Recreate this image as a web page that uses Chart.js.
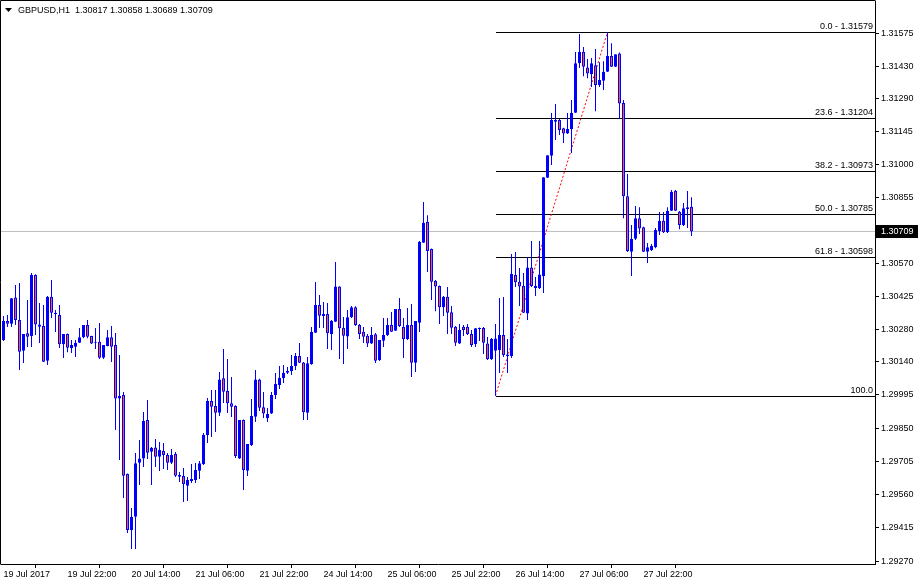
<!DOCTYPE html>
<html>
<head>
<meta charset="utf-8">
<script src="https://cdn.jsdelivr.net/npm/chart.js@4.4.1/dist/chart.umd.min.js"></script>
<style>
  html, body { margin: 0; padding: 0; background: #fff; }
  #wrap { width: 918px; height: 585px; position: relative; }
</style>
</head>
<body>
<div id="wrap"><canvas id="chart"></canvas></div>
<script>
// GBPUSD H1 bars, 19 Jul 06:00 .. 28 Jul 09:00
const symbolTitle = "GBPUSD,H1  1.30817 1.30858 1.30689 1.30709";

const opens = [
  1.30235,1.30318,1.30306,1.30421,1.30322,1.30188,1.30264,1.30252,1.30519,1.30303,
  1.30296,1.30144,1.30424,1.30354,1.30344,1.30216,1.30261,1.30199,1.30206,1.30223,
  1.30247,1.30300,1.30252,1.30227,1.30227,1.30157,1.30209,1.30247,1.30213,1.29980,
  1.29995,1.29650,1.29405,1.29463,1.29699,1.29718,1.29886,1.29747,1.29766,1.29725,
  1.29750,1.29733,1.29699,1.29737,1.29638,1.29641,1.29599,1.29619,1.29624,1.29664,
  1.29694,1.29820,1.29969,1.29947,1.29917,1.30068,1.30012,1.29959,1.29947,1.29718,
  1.29886,1.29664,1.29777,1.29900,1.30063,1.29941,1.29893,1.29914,1.29995,1.30038,
  1.30068,1.30092,1.30100,1.30121,1.30165,1.30137,1.29917,1.30129,1.30267,1.30388,
  1.30348,1.30348,1.30261,1.30315,1.30468,1.30288,1.30250,1.30334,1.30378,1.30300,
  1.30271,1.30253,1.30220,1.30260,1.30148,1.30232,1.30257,1.30300,1.30275,1.30370,
  1.30293,1.30239,1.30300,1.30136,1.30310,1.30659,1.30751,1.30632,1.30494,1.30471,
  1.30378,1.30424,1.30356,1.30293,1.30220,1.30293,1.30293,1.30261,1.30217,1.30287,
  1.30287,1.30220,1.30151,1.30188,1.30191,1.30257,1.30165,1.30165,1.30519,1.30489,
  1.30471,1.30351,1.30552,1.30462,1.30461,1.30514,1.30943,1.31039,1.31195,1.31195,
  1.31159,1.31137,1.31155,1.31227,1.31443,1.31493,1.31425,1.31395,1.31435,1.31348,
  1.31367,1.31406,1.31475,1.31428,1.31486,1.31270,1.30863,1.30620,1.30677,1.30766,
  1.30727,1.30620,1.30628,1.30640,1.30711,1.30756,1.30705,1.30799,1.30887,1.30795,
  1.30737,1.30807,1.30817
];
const highs = [
  1.30340,1.30344,1.30418,1.30475,1.30484,1.30261,1.30410,1.30527,1.30522,1.30396,
  1.30388,1.30427,1.30497,1.30366,1.30388,1.30261,1.30263,1.30235,1.30235,1.30287,
  1.30300,1.30322,1.30253,1.30287,1.30309,1.30213,1.30279,1.30296,1.30265,1.30169,
  1.30008,1.29652,1.29501,1.29742,1.29798,1.29921,1.29973,1.29768,1.29803,1.29790,
  1.29785,1.29742,1.29759,1.29746,1.29659,1.29676,1.29637,1.29694,1.29698,1.29707,
  1.29829,1.29982,1.30017,1.30017,1.30095,1.30196,1.30152,1.30073,1.29950,1.29886,
  1.29888,1.29781,1.29977,1.30104,1.30066,1.30008,1.29938,1.30008,1.30091,1.30121,
  1.30126,1.30117,1.30169,1.30178,1.30222,1.30139,1.30161,1.30292,1.30488,1.30431,
  1.30401,1.30397,1.30322,1.30575,1.30470,1.30335,1.30366,1.30383,1.30382,1.30305,
  1.30292,1.30261,1.30292,1.30265,1.30235,1.30331,1.30331,1.30357,1.30370,1.30418,
  1.30331,1.30375,1.30392,1.30318,1.30667,1.30837,1.30780,1.30634,1.30497,1.30473,
  1.30427,1.30466,1.30383,1.30296,1.30305,1.30300,1.30305,1.30279,1.30287,1.30289,
  1.30292,1.30248,1.30244,1.30305,1.30418,1.30423,1.30239,1.30610,1.30619,1.30549,
  1.30527,1.30597,1.30667,1.30510,1.30667,1.30946,1.31042,1.31226,1.31265,1.31200,
  1.31162,1.31226,1.31283,1.31492,1.31571,1.31514,1.31462,1.31466,1.31505,1.31448,
  1.31452,1.31579,1.31531,1.31483,1.31490,1.31283,1.30960,1.30737,1.30820,1.30815,
  1.30729,1.30658,1.30654,1.30724,1.30794,1.30794,1.30815,1.30890,1.30890,1.30798,
  1.30833,1.30885,1.30858
];
const lows = [
  1.30231,1.30292,1.30292,1.30300,1.30104,1.30134,1.30204,1.30204,1.30257,1.30222,
  1.30139,1.30126,1.30331,1.30270,1.30200,1.30156,1.30182,1.30178,1.30161,1.30222,
  1.30243,1.30243,1.30217,1.30196,1.30152,1.30152,1.30208,1.30139,1.29842,1.29711,
  1.29545,1.29392,1.29322,1.29322,1.29602,1.29680,1.29715,1.29602,1.29680,1.29663,
  1.29672,1.29667,1.29694,1.29637,1.29615,1.29528,1.29532,1.29611,1.29611,1.29628,
  1.29689,1.29785,1.29811,1.29833,1.29903,1.29960,1.29916,1.29899,1.29720,1.29715,
  1.29580,1.29641,1.29772,1.29877,1.29925,1.29894,1.29877,1.29912,1.29977,1.30021,
  1.30047,1.30086,1.30082,1.30104,1.30134,1.29886,1.29886,1.30127,1.30265,1.30287,
  1.30287,1.30196,1.30191,1.30314,1.30152,1.30130,1.30196,1.30331,1.30296,1.30239,
  1.30222,1.30204,1.30217,1.30134,1.30143,1.30204,1.30252,1.30270,1.30274,1.30292,
  1.30156,1.30235,1.30073,1.30095,1.30270,1.30658,1.30532,1.30410,1.30361,1.30305,
  1.30340,1.30261,1.30261,1.30209,1.30217,1.30252,1.30257,1.30204,1.30204,1.30231,
  1.30174,1.30148,1.30148,1.29992,1.30091,1.30161,1.30091,1.30156,1.30466,1.30383,
  1.30353,1.30322,1.30466,1.30427,1.30458,1.30440,1.30942,1.30999,1.31108,1.31130,
  1.31095,1.31134,1.31051,1.31226,1.31422,1.31387,1.31378,1.31339,1.31234,1.31339,
  1.31326,1.31405,1.31427,1.31427,1.31200,1.30767,1.30619,1.30514,1.30672,1.30698,
  1.30619,1.30571,1.30623,1.30636,1.30693,1.30702,1.30702,1.30798,1.30798,1.30719,
  1.30733,1.30724,1.30689
];
const closes = [
  1.30318,1.30306,1.30417,1.30322,1.30184,1.30261,1.30249,1.30519,1.30303,1.30293,
  1.30140,1.30424,1.30354,1.30347,1.30216,1.30261,1.30201,1.30213,1.30223,1.30247,
  1.30300,1.30249,1.30220,1.30223,1.30157,1.30213,1.30247,1.30206,1.29980,1.29990,
  1.29642,1.29405,1.29463,1.29697,1.29718,1.29881,1.29743,1.29765,1.29725,1.29755,
  1.29733,1.29699,1.29733,1.29642,1.29646,1.29605,1.29624,1.29628,1.29667,1.29697,
  1.29820,1.29969,1.29944,1.29917,1.30063,1.30009,1.29959,1.29944,1.29728,1.29886,
  1.29667,1.29781,1.29903,1.30063,1.29939,1.29914,1.29912,1.29995,1.30043,1.30070,
  1.30092,1.30100,1.30121,1.30165,1.30136,1.29919,1.30133,1.30271,1.30388,1.30341,
  1.30340,1.30264,1.30319,1.30468,1.30286,1.30254,1.30334,1.30378,1.30300,1.30261,
  1.30249,1.30220,1.30257,1.30144,1.30235,1.30257,1.30300,1.30271,1.30370,1.30296,
  1.30239,1.30300,1.30136,1.30318,1.30664,1.30747,1.30623,1.30489,1.30468,1.30378,
  1.30424,1.30354,1.30288,1.30223,1.30279,1.30279,1.30261,1.30213,1.30286,1.30283,
  1.30223,1.30151,1.30239,1.30242,1.30257,1.30169,1.30172,1.30523,1.30487,1.30468,
  1.30354,1.30552,1.30471,1.30471,1.30521,1.30946,1.31042,1.31195,1.31188,1.31152,
  1.31137,1.31156,1.31227,1.31443,1.31493,1.31428,1.31399,1.31443,1.31348,1.31370,
  1.31406,1.31475,1.31428,1.31482,1.31268,1.30863,1.30624,1.30677,1.30766,1.30722,
  1.30620,1.30640,1.30645,1.30715,1.30756,1.30705,1.30799,1.30882,1.30799,1.30737,
  1.30810,1.30814,1.30709
];

// time axis: one label every 16 bars
const xTickBars = [0, 16, 32, 48, 64, 80, 96, 112, 128, 144, 160];
const xTickLabels = ["19 Jul 2017", "19 Jul 22:00", "20 Jul 14:00", "21 Jul 06:00", "21 Jul 22:00",
  "24 Jul 14:00", "25 Jul 06:00", "25 Jul 22:00", "26 Jul 14:00", "27 Jul 06:00", "27 Jul 22:00"];

// price axis
const yTicks = [1.31575, 1.31430, 1.31290, 1.31145, 1.31000, 1.30855, 1.30570, 1.30425,
  1.30280, 1.30140, 1.29995, 1.29850, 1.29705, 1.29560, 1.29415, 1.29270];

// fibonacci retracement (from the 26 Jul low to the 27 Jul high)
const fibLabels = ["0.0 - 1.31579", "23.6 - 1.31204", "38.2 - 1.30973", "50.0 - 1.30785", "61.8 - 1.30598", "100.0"];
const fibPrices = [1.31579, 1.31204, 1.30973, 1.30785, 1.30598, 1.29992];
const fibBars = [123, 151];          // low bar, high bar
const fibEnds = [1.29992, 1.31579];  // low price, high price
const lastPrice = 1.30709;

const BLUE = "#0000ff";
const BEAR = "#ff5a1e";
const FONT = "Liberation Sans";

const bodies = opens.map((o, i) => ({ x: i, y: [o, closes[i]] }));
const wicks = lows.map((l, i) => ({ x: i, y: [l, highs[i]] }));

const mt4Overlay = {
  id: "mt4Overlay",
  beforeDraw(chart) {
    const c = chart.ctx;
    c.save();
    c.fillStyle = "#fff";
    c.fillRect(0, 0, chart.width, chart.height);
    c.restore();
  },
  beforeDatasetsDraw(chart) {
    const { ctx: c, chartArea: a, scales: { x, y } } = chart;
    const py = v => Math.round(y.getPixelForValue(v)) + 0.5;
    c.save();
    c.lineWidth = 1;

    // bid line
    c.strokeStyle = "#c0c0c0";
    c.beginPath();
    c.moveTo(a.left, py(lastPrice));
    c.lineTo(a.right, py(lastPrice));
    c.stroke();

    // fibo levels
    const fx = Math.round(x.getPixelForValue(fibBars[0]));
    c.strokeStyle = "#000";
    c.fillStyle = "#000";
    c.font = "9px '" + FONT + "'";
    c.textAlign = "right";
    c.textBaseline = "bottom";
    fibPrices.forEach((p, i) => {
      c.beginPath();
      c.moveTo(fx, py(p));
      c.lineTo(a.right, py(p));
      c.stroke();
      c.fillText(fibLabels[i], a.right - 2, py(p) - 1);
    });

    // trend (dotted red)
    c.strokeStyle = "#ff0000";
    c.setLineDash([2, 2]);
    c.beginPath();
    c.moveTo(x.getPixelForValue(fibBars[0]), y.getPixelForValue(fibEnds[0]));
    c.lineTo(x.getPixelForValue(fibBars[1]), y.getPixelForValue(fibEnds[1]));
    c.stroke();
    c.restore();
  },
  afterDraw(chart) {
    const { ctx: c, chartArea: a, scales: { y } } = chart;
    c.save();
    c.strokeStyle = "#000";
    c.lineWidth = 1;
    c.beginPath();
    c.moveTo(0.5, a.bottom + 0.5);
    c.lineTo(0.5, 0.5);
    c.lineTo(a.right + 0.5, 0.5);
    c.stroke();

    // title
    c.fillStyle = "#000";
    c.beginPath();
    c.moveTo(5, 8);
    c.lineTo(12, 8);
    c.lineTo(8.5, 12);
    c.closePath();
    c.fill();
    c.font = "9px '" + FONT + "'";
    c.textAlign = "left";
    c.textBaseline = "middle";
    c.fillText(symbolTitle, 18, 10.5);

    // bid price tag
    const ty = Math.round(y.getPixelForValue(lastPrice));
    c.fillStyle = "#000";
    c.fillRect(a.right + 1, ty - 6, chart.width - a.right - 1, 13);
    c.fillStyle = "#fff";
    c.fillText(lastPrice.toFixed(5), a.right + 6, ty + 0.5);
    c.restore();
  }
};

Chart.defaults.font.family = FONT;
Chart.defaults.font.size = 9;
Chart.defaults.color = "#000";

new Chart(document.getElementById("chart"), {
  type: "bar",
  data: {
    datasets: [
      {
        label: "body",
        data: bodies,
        order: 0,
        grouped: false,
        barThickness: 3,
        minBarLength: 1,
        inflateAmount: 0,
        backgroundColor: ctx => closes[ctx.dataIndex] >= opens[ctx.dataIndex] ? BLUE : BEAR,
        borderColor: BLUE,
        borderWidth: 1,
        borderSkipped: false
      },
      {
        label: "wick",
        data: wicks,
        order: 1,
        grouped: false,
        barThickness: 1,
        inflateAmount: 0,
        backgroundColor: BLUE,
        borderWidth: 0
      }
    ]
  },
  options: {
    responsive: true,
    maintainAspectRatio: false,
    animation: false,
    layout: { padding: { left: 1, top: 1, right: 0, bottom: 0 } },
    plugins: { legend: { display: false }, tooltip: { enabled: false } },
    scales: {
      x: {
        type: "linear",
        min: -0.625,
        max: 217.875,
        offset: false,
        afterBuildTicks: s => { s.ticks = xTickBars.map(v => ({ value: v })); },
        afterFit: s => { s.height = 21; s.paddingLeft = 0; s.paddingRight = 0; },
        ticks: {
          autoSkip: false,
          maxRotation: 0,
          align: "start",
          padding: 1,
          callback: v => xTickLabels[xTickBars.indexOf(v)]
        },
        grid: { drawOnChartArea: false, tickLength: 4, color: "#000" },
        border: { display: true, color: "#000" }
      },
      y: {
        position: "right",
        min: 1.29257,
        max: 1.31715,
        afterBuildTicks: s => { s.ticks = yTicks.map(v => ({ value: v })); },
        afterFit: s => { s.width = 43; s.paddingTop = 0; s.paddingBottom = 0; },
        ticks: { autoSkip: false, padding: 2, callback: v => v.toFixed(5) },
        grid: { drawOnChartArea: false, tickLength: 4, color: "#000" },
        border: { display: true, color: "#000" }
      }
    }
  },
  plugins: [mt4Overlay]
});
</script>
</body>
</html>
